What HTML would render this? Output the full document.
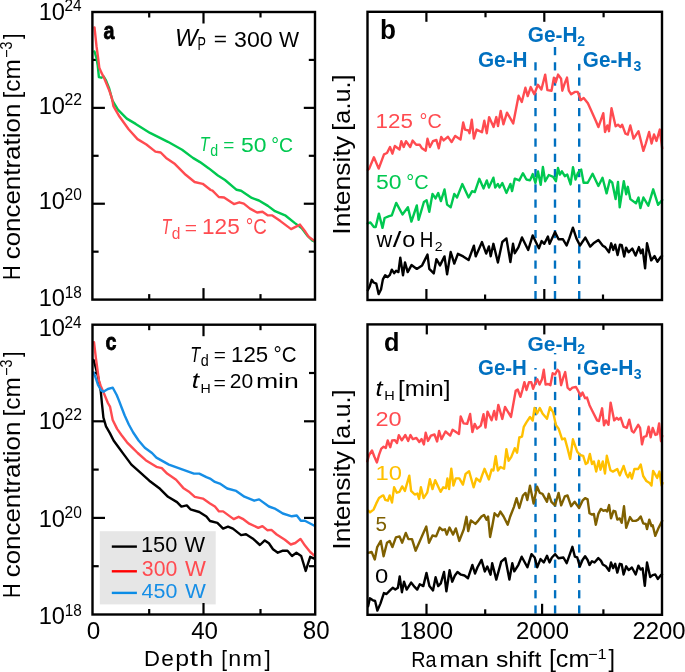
<!DOCTYPE html><html><head><meta charset="utf-8"><style>html,body{margin:0;padding:0;background:#fff;overflow:hidden}svg{display:block;will-change:transform}</style></head><body>
<svg width="685" height="672" viewBox="0 0 685 672" font-family='"Liberation Sans", sans-serif'>
<rect width="685" height="672" fill="#fff"/>
<line x1="92.40" y1="59.93" x2="98.60" y2="59.93" stroke="#000" stroke-width="2.2"/>
<line x1="315.00" y1="59.93" x2="308.80" y2="59.93" stroke="#000" stroke-width="2.2"/>
<line x1="92.40" y1="107.87" x2="104.90" y2="107.87" stroke="#000" stroke-width="2.2"/>
<line x1="315.00" y1="107.87" x2="303.80" y2="107.87" stroke="#000" stroke-width="2.2"/>
<line x1="92.40" y1="155.80" x2="98.60" y2="155.80" stroke="#000" stroke-width="2.2"/>
<line x1="315.00" y1="155.80" x2="308.80" y2="155.80" stroke="#000" stroke-width="2.2"/>
<line x1="92.40" y1="203.73" x2="104.90" y2="203.73" stroke="#000" stroke-width="2.2"/>
<line x1="315.00" y1="203.73" x2="303.80" y2="203.73" stroke="#000" stroke-width="2.2"/>
<line x1="92.40" y1="251.67" x2="98.60" y2="251.67" stroke="#000" stroke-width="2.2"/>
<line x1="315.00" y1="251.67" x2="308.80" y2="251.67" stroke="#000" stroke-width="2.2"/>
<line x1="149.20" y1="299.60" x2="149.20" y2="294.10" stroke="#000" stroke-width="2.2"/>
<line x1="149.20" y1="12.00" x2="149.20" y2="17.50" stroke="#000" stroke-width="2.2"/>
<line x1="203.50" y1="299.60" x2="203.50" y2="288.10" stroke="#000" stroke-width="2.2"/>
<line x1="203.50" y1="12.00" x2="203.50" y2="23.50" stroke="#000" stroke-width="2.2"/>
<line x1="260.50" y1="299.60" x2="260.50" y2="294.10" stroke="#000" stroke-width="2.2"/>
<line x1="260.50" y1="12.00" x2="260.50" y2="17.50" stroke="#000" stroke-width="2.2"/>
<polyline points="94.5,51.5 96.5,58.1 97.7,65.2 98.9,77.1 101.3,77.7 103.7,76.5 106.1,80.7 109.0,87.9 112.5,100.7 117.9,109.6 126.8,118.6 135.7,123.9 150.0,132.9 160.0,137.9 167.9,141.8 182.1,149.8 192.9,157.9 200.0,162.1 208.9,168.4 217.9,175.5 225.0,180.0 236.6,189.8 241.1,190.7 251.8,197.9 258.9,200.5 267.9,205.9 275.0,211.2 285.7,215.7 294.6,222.9 301.8,228.2 307.1,235.4 312.5,240.7 314.3,241.5" fill="none" stroke="#00C850" stroke-width="2.4" stroke-linejoin="round" stroke-linecap="round"/>
<polyline points="94.5,27.4 96.5,46.2 98.3,59.3 99.3,67.6 101.3,72.4 103.7,77.1 106.7,84.3 109.6,91.4 112.0,98.6 113.4,106.1 119.6,116.8 128.6,129.3 137.5,139.1 146.4,144.5 155.4,151.6 160.7,152.5 166.1,157.9 175.0,164.1 185.7,174.8 194.6,182.0 202.7,183.8 210.7,190.0 212.5,190.7 218.8,197.0 224.1,197.5 233.9,204.1 239.3,202.3 243.8,203.6 250.0,208.6 257.1,212.5 262.5,211.8 267.9,215.4 272.3,215.4 280.4,221.1 291.1,229.1 300.0,224.6 305.4,231.8 308.9,237.1 314.3,240.7" fill="none" stroke="#FF4B50" stroke-width="2.4" stroke-linejoin="round" stroke-linecap="round"/>
<rect x="92.4" y="12.0" width="222.60" height="287.60" fill="none" stroke="#000" stroke-width="2.4"/>
<rect x="99.8" y="531.2" width="115.9" height="73.2" fill="#E6E6E6"/>
<line x1="92.50" y1="373.00" x2="98.70" y2="373.00" stroke="#000" stroke-width="2.2"/>
<line x1="315.20" y1="373.00" x2="309.00" y2="373.00" stroke="#000" stroke-width="2.2"/>
<line x1="92.50" y1="421.30" x2="105.00" y2="421.30" stroke="#000" stroke-width="2.2"/>
<line x1="315.20" y1="421.30" x2="304.00" y2="421.30" stroke="#000" stroke-width="2.2"/>
<line x1="92.50" y1="469.60" x2="98.70" y2="469.60" stroke="#000" stroke-width="2.2"/>
<line x1="315.20" y1="469.60" x2="309.00" y2="469.60" stroke="#000" stroke-width="2.2"/>
<line x1="92.50" y1="517.90" x2="105.00" y2="517.90" stroke="#000" stroke-width="2.2"/>
<line x1="315.20" y1="517.90" x2="304.00" y2="517.90" stroke="#000" stroke-width="2.2"/>
<line x1="92.50" y1="566.20" x2="98.70" y2="566.20" stroke="#000" stroke-width="2.2"/>
<line x1="315.20" y1="566.20" x2="309.00" y2="566.20" stroke="#000" stroke-width="2.2"/>
<line x1="149.20" y1="614.50" x2="149.20" y2="609.00" stroke="#000" stroke-width="2.2"/>
<line x1="149.20" y1="324.70" x2="149.20" y2="330.20" stroke="#000" stroke-width="2.2"/>
<line x1="203.50" y1="614.50" x2="203.50" y2="603.00" stroke="#000" stroke-width="2.2"/>
<line x1="203.50" y1="324.70" x2="203.50" y2="336.20" stroke="#000" stroke-width="2.2"/>
<line x1="260.50" y1="614.50" x2="260.50" y2="609.00" stroke="#000" stroke-width="2.2"/>
<line x1="260.50" y1="324.70" x2="260.50" y2="330.20" stroke="#000" stroke-width="2.2"/>
<polyline points="93.6,360.0 94.9,364.5 98.0,376.4 100.7,390.7 102.1,405.0 103.4,417.5 106.0,426.4 110.0,433.4 113.6,440.5 118.9,447.7 123.4,453.9 131.4,464.6 140.4,472.7 149.3,480.7 160.0,488.8 168.0,496.8 177.0,502.1 181.4,506.6 186.8,505.4 190.4,509.3 199.3,512.0 206.4,516.4 210.0,521.0 217.4,522.8 223.1,528.6 228.0,526.6 232.9,528.6 241.1,535.1 246.0,534.3 252.6,538.4 259.9,545.0 264.8,540.4 268.9,543.3 273.0,549.3 277.8,552.7 282.3,550.8 287.5,550.8 292.0,556.0 296.4,552.7 301.2,556.0 305.7,570.9 310.2,556.8 314.3,558.6" fill="none" stroke="#000" stroke-width="2.4" stroke-linejoin="round" stroke-linecap="round"/>
<polyline points="94.0,342.1 95.8,357.3 97.6,370.7 98.9,380.5 100.7,385.9 103.4,392.1 107.9,403.0 110.0,406.6 112.7,420.0 117.1,428.9 121.6,435.2 127.0,442.3 132.3,447.7 137.7,453.0 145.7,460.2 156.4,466.8 161.8,468.2 167.1,473.6 176.1,479.8 183.2,487.9 188.6,491.4 194.8,496.8 202.9,498.6 210.0,503.5 214.9,506.5 219.0,511.4 223.1,511.4 233.7,519.1 238.6,516.8 242.7,518.8 249.3,523.7 258.3,527.8 262.4,526.1 267.3,530.2 271.4,529.9 276.7,534.5 284.9,539.7 290.8,544.5 295.3,543.0 300.5,538.9 305.0,545.6 310.2,552.0 314.3,555.7" fill="none" stroke="#FF4B50" stroke-width="2.4" stroke-linejoin="round" stroke-linecap="round"/>
<polyline points="93.6,372.5 95.4,377.0 98.0,385.0 101.2,390.4 103.4,391.7 107.9,389.0 112.8,387.7 116.7,395.0 118.9,400.4 121.6,407.5 124.7,415.5 128.8,424.5 133.2,432.5 138.6,440.5 144.8,447.7 152.0,453.0 156.4,457.6 168.9,464.6 181.4,469.1 193.9,473.6 199.3,473.6 206.4,477.1 210.0,478.6 214.9,481.9 219.8,483.6 227.2,488.5 236.2,490.9 244.4,496.7 254.2,500.7 259.1,499.4 268.9,506.5 275.5,508.9 282.8,513.5 291.8,516.3 296.8,515.5 300.8,520.7 304.9,520.7 313.5,525.3 314.3,525.7" fill="none" stroke="#168EE6" stroke-width="2.4" stroke-linejoin="round" stroke-linecap="round"/>
<rect x="92.5" y="324.7" width="222.70" height="289.80" fill="none" stroke="#000" stroke-width="2.4"/>
<line x1="535.50" y1="62.25" x2="535.50" y2="70.45" stroke="#0070C0" stroke-width="2.4"/>
<line x1="535.50" y1="77.50" x2="535.50" y2="85.70" stroke="#0070C0" stroke-width="2.4"/>
<line x1="535.50" y1="92.75" x2="535.50" y2="100.95" stroke="#0070C0" stroke-width="2.4"/>
<line x1="535.50" y1="108.00" x2="535.50" y2="116.20" stroke="#0070C0" stroke-width="2.4"/>
<line x1="535.50" y1="123.25" x2="535.50" y2="131.45" stroke="#0070C0" stroke-width="2.4"/>
<line x1="535.50" y1="138.50" x2="535.50" y2="146.70" stroke="#0070C0" stroke-width="2.4"/>
<line x1="535.50" y1="153.75" x2="535.50" y2="161.95" stroke="#0070C0" stroke-width="2.4"/>
<line x1="535.50" y1="169.00" x2="535.50" y2="177.20" stroke="#0070C0" stroke-width="2.4"/>
<line x1="535.50" y1="184.25" x2="535.50" y2="192.45" stroke="#0070C0" stroke-width="2.4"/>
<line x1="535.50" y1="199.50" x2="535.50" y2="207.70" stroke="#0070C0" stroke-width="2.4"/>
<line x1="535.50" y1="214.75" x2="535.50" y2="222.95" stroke="#0070C0" stroke-width="2.4"/>
<line x1="535.50" y1="230.00" x2="535.50" y2="238.20" stroke="#0070C0" stroke-width="2.4"/>
<line x1="535.50" y1="245.25" x2="535.50" y2="253.45" stroke="#0070C0" stroke-width="2.4"/>
<line x1="535.50" y1="260.50" x2="535.50" y2="268.70" stroke="#0070C0" stroke-width="2.4"/>
<line x1="535.50" y1="275.75" x2="535.50" y2="283.95" stroke="#0070C0" stroke-width="2.4"/>
<line x1="535.50" y1="291.00" x2="535.50" y2="299.20" stroke="#0070C0" stroke-width="2.4"/>
<line x1="555.00" y1="47.00" x2="555.00" y2="55.20" stroke="#0070C0" stroke-width="2.4"/>
<line x1="555.00" y1="62.25" x2="555.00" y2="70.45" stroke="#0070C0" stroke-width="2.4"/>
<line x1="555.00" y1="77.50" x2="555.00" y2="85.70" stroke="#0070C0" stroke-width="2.4"/>
<line x1="555.00" y1="92.75" x2="555.00" y2="100.95" stroke="#0070C0" stroke-width="2.4"/>
<line x1="555.00" y1="108.00" x2="555.00" y2="116.20" stroke="#0070C0" stroke-width="2.4"/>
<line x1="555.00" y1="123.25" x2="555.00" y2="131.45" stroke="#0070C0" stroke-width="2.4"/>
<line x1="555.00" y1="138.50" x2="555.00" y2="146.70" stroke="#0070C0" stroke-width="2.4"/>
<line x1="555.00" y1="153.75" x2="555.00" y2="161.95" stroke="#0070C0" stroke-width="2.4"/>
<line x1="555.00" y1="169.00" x2="555.00" y2="177.20" stroke="#0070C0" stroke-width="2.4"/>
<line x1="555.00" y1="184.25" x2="555.00" y2="192.45" stroke="#0070C0" stroke-width="2.4"/>
<line x1="555.00" y1="199.50" x2="555.00" y2="207.70" stroke="#0070C0" stroke-width="2.4"/>
<line x1="555.00" y1="214.75" x2="555.00" y2="222.95" stroke="#0070C0" stroke-width="2.4"/>
<line x1="555.00" y1="230.00" x2="555.00" y2="238.20" stroke="#0070C0" stroke-width="2.4"/>
<line x1="555.00" y1="245.25" x2="555.00" y2="253.45" stroke="#0070C0" stroke-width="2.4"/>
<line x1="555.00" y1="260.50" x2="555.00" y2="268.70" stroke="#0070C0" stroke-width="2.4"/>
<line x1="555.00" y1="275.75" x2="555.00" y2="283.95" stroke="#0070C0" stroke-width="2.4"/>
<line x1="555.00" y1="291.00" x2="555.00" y2="299.20" stroke="#0070C0" stroke-width="2.4"/>
<line x1="579.20" y1="63.90" x2="579.20" y2="70.45" stroke="#0070C0" stroke-width="2.4"/>
<line x1="579.20" y1="77.50" x2="579.20" y2="85.70" stroke="#0070C0" stroke-width="2.4"/>
<line x1="579.20" y1="92.75" x2="579.20" y2="100.95" stroke="#0070C0" stroke-width="2.4"/>
<line x1="579.20" y1="108.00" x2="579.20" y2="116.20" stroke="#0070C0" stroke-width="2.4"/>
<line x1="579.20" y1="123.25" x2="579.20" y2="131.45" stroke="#0070C0" stroke-width="2.4"/>
<line x1="579.20" y1="138.50" x2="579.20" y2="146.70" stroke="#0070C0" stroke-width="2.4"/>
<line x1="579.20" y1="153.75" x2="579.20" y2="161.95" stroke="#0070C0" stroke-width="2.4"/>
<line x1="579.20" y1="169.00" x2="579.20" y2="177.20" stroke="#0070C0" stroke-width="2.4"/>
<line x1="579.20" y1="184.25" x2="579.20" y2="192.45" stroke="#0070C0" stroke-width="2.4"/>
<line x1="579.20" y1="199.50" x2="579.20" y2="207.70" stroke="#0070C0" stroke-width="2.4"/>
<line x1="579.20" y1="214.75" x2="579.20" y2="222.95" stroke="#0070C0" stroke-width="2.4"/>
<line x1="579.20" y1="230.00" x2="579.20" y2="238.20" stroke="#0070C0" stroke-width="2.4"/>
<line x1="579.20" y1="245.25" x2="579.20" y2="253.45" stroke="#0070C0" stroke-width="2.4"/>
<line x1="579.20" y1="260.50" x2="579.20" y2="268.70" stroke="#0070C0" stroke-width="2.4"/>
<line x1="579.20" y1="275.75" x2="579.20" y2="283.95" stroke="#0070C0" stroke-width="2.4"/>
<line x1="579.20" y1="291.00" x2="579.20" y2="299.20" stroke="#0070C0" stroke-width="2.4"/>
<polyline points="367.8,170.0 369.2,168.6 373.9,157.3 378.7,168.6 384.0,154.3 387.0,153.0 390.0,147.0 392.4,153.7 394.8,146.0 399.5,149.5 401.3,141.2 403.7,147.0 406.0,141.2 410.2,147.0 412.6,140.6 416.2,144.8 419.8,144.8 422.0,148.3 425.7,150.7 427.5,138.8 429.9,147.0 432.9,141.2 436.4,140.0 438.8,148.3 441.2,137.0 443.6,140.4 448.0,136.8 451.6,142.1 455.2,135.9 460.5,139.5 463.2,122.5 465.0,129.6 468.6,130.5 469.5,133.2 471.8,119.8 473.9,138.6 476.6,129.6 482.0,132.3 484.3,120.7 486.8,133.2 489.1,117.1 493.6,127.0 496.3,117.1 498.0,126.0 500.7,110.9 503.4,124.3 507.0,112.7 513.2,123.4 518.6,95.7 521.8,102.0 525.4,87.7 527.7,96.1 530.7,87.1 534.3,94.3 537.9,84.8 541.4,89.5 545.2,74.6 547.4,90.1 551.5,90.7 553.9,77.6 555.7,82.4 558.1,74.6 561.1,78.8 562.3,90.7 564.6,83.6 567.0,77.6 568.8,90.7 571.2,94.3 574.8,91.9 577.7,91.9 580.7,100.2 583.7,97.9 587.9,103.2 591.4,111.0 596.2,121.7 598.4,127.1 603.3,113.2 605.0,132.0 607.4,125.5 609.0,131.2 611.5,108.3 615.6,126.3 618.0,124.7 620.5,127.1 622.1,124.7 625.4,133.7 627.8,134.5 630.3,125.5 633.6,138.6 638.5,131.2 643.4,150.9 645.8,143.5 649.1,132.0 651.6,143.5 654.0,134.5 656.5,141.0 659.8,129.6 662.2,148.4" fill="none" stroke="#FF4B50" stroke-width="2.4" stroke-linejoin="round" stroke-linecap="round"/>
<polyline points="367.7,223.4 370.4,222.5 373.9,227.0 375.7,227.0 378.9,213.6 382.5,227.9 384.6,218.0 389.1,216.2 391.8,215.4 396.2,202.9 402.5,214.5 407.9,207.3 411.4,221.6 416.8,205.5 418.6,219.8 423.9,202.0 426.6,200.2 429.3,211.8 432.5,193.9 435.5,198.4 438.2,193.0 440.9,201.1 444.5,189.5 447.1,204.6 450.7,207.3 454.3,193.9 457.0,197.5 462.3,184.1 468.6,197.5 472.1,191.2 474.8,192.1 479.3,178.8 483.6,188.4 486.8,180.4 488.9,187.5 493.4,177.7 495.2,187.5 497.9,183.9 499.6,187.5 502.3,183.0 506.4,192.9 510.4,183.9 512.1,191.1 514.8,178.6 519.3,180.4 522.9,173.2 526.4,179.5 530.0,180.4 532.7,174.1 535.4,183.0 538.0,171.4 540.7,184.8 542.9,167.0 545.2,181.2 548.8,175.0 553.2,176.8 555.9,181.2 558.0,168.0 559.9,174.6 561.9,171.3 564.8,176.2 567.3,174.6 570.6,184.4 573.0,167.2 575.5,179.5 577.9,172.9 581.2,169.6 583.6,182.7 587.7,182.7 592.6,173.7 598.4,186.0 602.5,177.8 606.6,193.4 609.8,180.3 612.3,182.7 615.6,199.1 618.0,181.9 619.7,207.3 623.8,181.1 626.2,194.2 627.8,186.8 630.3,199.1 636.0,203.2 638.5,197.5 640.4,208.1 643.4,197.5 648.3,205.7 653.2,189.3 658.1,204.8 662.2,199.9" fill="none" stroke="#00C850" stroke-width="2.4" stroke-linejoin="round" stroke-linecap="round"/>
<polyline points="367.8,290.2 369.7,286.4 371.7,279.8 373.6,282.5 376.3,283.7 378.6,294.1 381.0,289.5 382.9,279.4 385.2,275.2 387.5,277.1 389.9,274.8 391.8,269.7 394.1,273.2 396.1,270.7 398.4,272.1 400.3,257.7 403.0,275.2 405.0,262.4 407.7,272.1 411.5,265.1 416.8,268.9 422.1,265.4 427.5,254.6 429.3,268.9 433.8,273.4 436.4,259.1 440.0,265.4 444.5,256.4 447.1,274.3 450.7,252.0 454.3,263.6 457.9,253.8 463.2,256.4 468.6,260.0 473.9,245.7 475.7,256.4 482.0,242.1 486.2,253.6 488.9,246.4 490.7,256.2 493.4,243.8 497.9,262.5 502.3,242.0 506.4,238.4 510.4,262.1 513.0,243.8 514.8,253.2 518.4,247.3 522.0,237.5 528.2,250.0 532.7,235.4 538.9,248.2 541.6,241.1 544.3,243.8 547.9,236.6 549.6,243.8 555.0,232.1 558.6,239.3 563.0,239.3 566.6,245.5 569.3,238.4 572.9,227.7 576.4,238.4 580.0,245.5 585.3,237.6 590.2,246.6 593.5,243.3 598.4,240.0 602.8,245.7 605.2,247.1 609.0,252.3 611.2,243.3 613.3,249.9 615.2,244.7 617.6,255.1 619.9,244.7 621.8,245.2 624.2,256.6 626.1,247.6 628.5,252.3 632.3,248.5 635.6,255.6 638.9,247.1 640.8,253.2 642.7,249.4 645.1,268.4 647.0,243.3 651.2,260.4 654.6,256.1 657.4,261.8 660.7,257.0 662.0,256.0" fill="none" stroke="#000" stroke-width="2.4" stroke-linejoin="round" stroke-linecap="round"/>
<line x1="426.40" y1="11.80" x2="426.40" y2="21.80" stroke="#000" stroke-width="2.2"/>
<line x1="485.50" y1="11.80" x2="485.50" y2="17.30" stroke="#000" stroke-width="2.2"/>
<line x1="544.30" y1="11.80" x2="544.30" y2="21.80" stroke="#000" stroke-width="2.2"/>
<line x1="603.60" y1="11.80" x2="603.60" y2="17.30" stroke="#000" stroke-width="2.2"/>
<line x1="426.40" y1="300.00" x2="426.40" y2="289.00" stroke="#000" stroke-width="2.2"/>
<line x1="485.10" y1="300.00" x2="485.10" y2="294.50" stroke="#000" stroke-width="2.2"/>
<line x1="544.30" y1="300.00" x2="544.30" y2="289.00" stroke="#000" stroke-width="2.2"/>
<line x1="603.00" y1="300.00" x2="603.00" y2="294.50" stroke="#000" stroke-width="2.2"/>
<rect x="367.5" y="11.8" width="294.50" height="288.20" fill="none" stroke="#000" stroke-width="2.4"/>
<line x1="535.50" y1="368.00" x2="535.50" y2="369.60" stroke="#0070C0" stroke-width="2.4"/>
<line x1="535.50" y1="376.65" x2="535.50" y2="384.85" stroke="#0070C0" stroke-width="2.4"/>
<line x1="535.50" y1="391.90" x2="535.50" y2="400.10" stroke="#0070C0" stroke-width="2.4"/>
<line x1="535.50" y1="407.15" x2="535.50" y2="415.35" stroke="#0070C0" stroke-width="2.4"/>
<line x1="535.50" y1="422.40" x2="535.50" y2="430.60" stroke="#0070C0" stroke-width="2.4"/>
<line x1="535.50" y1="437.65" x2="535.50" y2="445.85" stroke="#0070C0" stroke-width="2.4"/>
<line x1="535.50" y1="452.90" x2="535.50" y2="461.10" stroke="#0070C0" stroke-width="2.4"/>
<line x1="535.50" y1="468.15" x2="535.50" y2="476.35" stroke="#0070C0" stroke-width="2.4"/>
<line x1="535.50" y1="483.40" x2="535.50" y2="491.60" stroke="#0070C0" stroke-width="2.4"/>
<line x1="535.50" y1="498.65" x2="535.50" y2="506.85" stroke="#0070C0" stroke-width="2.4"/>
<line x1="535.50" y1="513.90" x2="535.50" y2="522.10" stroke="#0070C0" stroke-width="2.4"/>
<line x1="535.50" y1="529.15" x2="535.50" y2="537.35" stroke="#0070C0" stroke-width="2.4"/>
<line x1="535.50" y1="544.40" x2="535.50" y2="552.60" stroke="#0070C0" stroke-width="2.4"/>
<line x1="535.50" y1="559.65" x2="535.50" y2="567.85" stroke="#0070C0" stroke-width="2.4"/>
<line x1="535.50" y1="574.90" x2="535.50" y2="583.10" stroke="#0070C0" stroke-width="2.4"/>
<line x1="535.50" y1="590.15" x2="535.50" y2="598.35" stroke="#0070C0" stroke-width="2.4"/>
<line x1="535.50" y1="605.40" x2="535.50" y2="613.60" stroke="#0070C0" stroke-width="2.4"/>
<line x1="555.10" y1="353.00" x2="555.10" y2="354.35" stroke="#0070C0" stroke-width="2.4"/>
<line x1="555.10" y1="361.40" x2="555.10" y2="369.60" stroke="#0070C0" stroke-width="2.4"/>
<line x1="555.10" y1="376.65" x2="555.10" y2="384.85" stroke="#0070C0" stroke-width="2.4"/>
<line x1="555.10" y1="391.90" x2="555.10" y2="400.10" stroke="#0070C0" stroke-width="2.4"/>
<line x1="555.10" y1="407.15" x2="555.10" y2="415.35" stroke="#0070C0" stroke-width="2.4"/>
<line x1="555.10" y1="422.40" x2="555.10" y2="430.60" stroke="#0070C0" stroke-width="2.4"/>
<line x1="555.10" y1="437.65" x2="555.10" y2="445.85" stroke="#0070C0" stroke-width="2.4"/>
<line x1="555.10" y1="452.90" x2="555.10" y2="461.10" stroke="#0070C0" stroke-width="2.4"/>
<line x1="555.10" y1="468.15" x2="555.10" y2="476.35" stroke="#0070C0" stroke-width="2.4"/>
<line x1="555.10" y1="483.40" x2="555.10" y2="491.60" stroke="#0070C0" stroke-width="2.4"/>
<line x1="555.10" y1="498.65" x2="555.10" y2="506.85" stroke="#0070C0" stroke-width="2.4"/>
<line x1="555.10" y1="513.90" x2="555.10" y2="522.10" stroke="#0070C0" stroke-width="2.4"/>
<line x1="555.10" y1="529.15" x2="555.10" y2="537.35" stroke="#0070C0" stroke-width="2.4"/>
<line x1="555.10" y1="544.40" x2="555.10" y2="552.60" stroke="#0070C0" stroke-width="2.4"/>
<line x1="555.10" y1="559.65" x2="555.10" y2="567.85" stroke="#0070C0" stroke-width="2.4"/>
<line x1="555.10" y1="574.90" x2="555.10" y2="583.10" stroke="#0070C0" stroke-width="2.4"/>
<line x1="555.10" y1="590.15" x2="555.10" y2="598.35" stroke="#0070C0" stroke-width="2.4"/>
<line x1="555.10" y1="605.40" x2="555.10" y2="613.60" stroke="#0070C0" stroke-width="2.4"/>
<line x1="579.20" y1="363.80" x2="579.20" y2="369.60" stroke="#0070C0" stroke-width="2.4"/>
<line x1="579.20" y1="376.65" x2="579.20" y2="384.85" stroke="#0070C0" stroke-width="2.4"/>
<line x1="579.20" y1="391.90" x2="579.20" y2="400.10" stroke="#0070C0" stroke-width="2.4"/>
<line x1="579.20" y1="407.15" x2="579.20" y2="415.35" stroke="#0070C0" stroke-width="2.4"/>
<line x1="579.20" y1="422.40" x2="579.20" y2="430.60" stroke="#0070C0" stroke-width="2.4"/>
<line x1="579.20" y1="437.65" x2="579.20" y2="445.85" stroke="#0070C0" stroke-width="2.4"/>
<line x1="579.20" y1="452.90" x2="579.20" y2="461.10" stroke="#0070C0" stroke-width="2.4"/>
<line x1="579.20" y1="468.15" x2="579.20" y2="476.35" stroke="#0070C0" stroke-width="2.4"/>
<line x1="579.20" y1="483.40" x2="579.20" y2="491.60" stroke="#0070C0" stroke-width="2.4"/>
<line x1="579.20" y1="498.65" x2="579.20" y2="506.85" stroke="#0070C0" stroke-width="2.4"/>
<line x1="579.20" y1="513.90" x2="579.20" y2="522.10" stroke="#0070C0" stroke-width="2.4"/>
<line x1="579.20" y1="529.15" x2="579.20" y2="537.35" stroke="#0070C0" stroke-width="2.4"/>
<line x1="579.20" y1="544.40" x2="579.20" y2="552.60" stroke="#0070C0" stroke-width="2.4"/>
<line x1="579.20" y1="559.65" x2="579.20" y2="567.85" stroke="#0070C0" stroke-width="2.4"/>
<line x1="579.20" y1="574.90" x2="579.20" y2="583.10" stroke="#0070C0" stroke-width="2.4"/>
<line x1="579.20" y1="590.15" x2="579.20" y2="598.35" stroke="#0070C0" stroke-width="2.4"/>
<line x1="579.20" y1="605.40" x2="579.20" y2="613.60" stroke="#0070C0" stroke-width="2.4"/>
<polyline points="367.2,461.3 369.1,455.0 372.0,450.5 374.3,456.5 376.9,462.4 379.1,454.6 381.3,448.6 383.6,446.8 385.8,447.9 387.7,440.5 390.3,447.2 392.1,440.5 394.7,440.1 397.0,443.1 398.8,435.2 401.8,440.3 405.3,435.0 408.2,440.9 410.5,435.0 412.8,439.1 416.4,438.0 419.3,442.0 421.6,439.1 423.9,444.4 425.7,432.7 428.0,440.9 430.9,435.6 434.5,434.5 437.1,441.5 439.1,431.0 441.5,439.1 445.5,431.5 450.2,435.6 452.6,429.8 459.0,433.9 460.7,416.4 463.6,423.4 467.2,423.9 470.1,414.0 472.4,432.1 474.7,423.9 477.1,428.6 480.8,425.6 483.5,414.2 485.5,427.6 487.5,411.6 491.6,420.3 494.2,410.9 496.2,419.6 498.3,404.9 502.3,418.9 505.0,406.9 511.0,416.9 515.7,390.8 517.7,389.5 520.4,396.8 522.4,390.0 524.4,382.1 526.5,390.0 528.9,382.3 531.3,382.3 533.1,388.8 534.9,384.0 537.3,379.3 539.6,384.6 542.0,379.3 543.8,369.8 545.6,384.6 548.0,384.0 550.4,385.2 552.7,373.3 555.1,374.5 557.5,369.8 559.3,372.1 561.1,385.2 563.5,376.9 565.2,372.1 567.6,387.6 570.0,390.0 572.4,387.6 576.0,387.0 578.3,391.2 580.7,396.0 582.5,392.5 585.1,398.2 587.0,397.6 589.5,405.2 592.6,411.5 597.1,420.4 599.0,421.0 602.1,408.3 604.0,425.4 605.9,420.4 608.5,424.8 610.6,402.6 614.2,420.4 616.7,417.8 618.6,419.7 620.7,417.8 623.6,426.7 626.8,427.9 629.3,419.7 631.9,431.1 633.8,432.4 638.2,424.8 640.1,427.9 642.0,444.4 643.9,436.8 646.4,436.2 648.6,426.7 650.6,437.4 652.7,427.9 655.3,434.9 657.2,434.3 659.1,423.5 661.0,441.2 662.2,436.0" fill="none" stroke="#FF4B50" stroke-width="2.4" stroke-linejoin="round" stroke-linecap="round"/>
<polyline points="368.2,510.5 370.0,512.3 373.6,509.6 376.3,503.4 379.0,498.0 381.6,496.2 383.4,495.4 385.2,499.8 387.9,500.7 389.7,495.4 392.0,502.5 394.1,487.3 396.8,492.7 399.5,491.8 402.2,486.4 404.9,490.9 409.3,475.7 411.1,490.9 414.7,494.5 417.4,493.6 419.1,498.9 420.9,487.3 423.6,498.0 427.2,492.7 429.9,479.3 432.5,489.1 435.2,480.2 440.6,491.8 443.2,487.3 445.9,488.2 447.4,478.4 449.1,489.1 451.3,468.6 453.4,485.5 455.8,478.4 459.3,478.4 462.9,484.6 465.6,473.9 469.1,471.2 473.6,487.3 476.3,478.4 480.0,481.5 482.0,475.7 484.5,468.8 488.9,479.5 491.6,469.6 493.4,470.5 495.7,456.2 497.9,470.5 500.5,467.0 504.1,468.8 506.4,449.1 508.6,460.7 511.2,457.1 514.8,448.2 517.1,452.7 519.3,437.5 522.0,436.6 523.8,426.8 526.4,422.3 530.0,417.0 532.7,420.5 534.5,408.0 537.1,413.4 539.8,408.0 542.5,413.4 547.0,418.8 550.0,407.1 553.2,412.5 555.9,425.0 558.6,428.6 562.1,439.3 564.8,438.4 567.5,448.2 570.2,458.9 572.9,439.3 577.3,451.8 580.0,455.0 583.2,455.8 585.7,464.0 587.6,462.7 589.9,453.9 592.0,464.0 593.9,461.4 596.2,471.6 598.7,460.8 600.5,469.7 602.8,461.4 605.0,473.5 606.8,455.8 610.4,470.3 612.9,471.6 617.3,469.0 619.8,475.4 623.6,465.9 626.2,474.1 628.1,477.3 630.0,472.8 631.9,478.5 634.4,469.0 638.2,469.0 640.7,464.6 643.2,476.0 646.4,481.0 649.6,483.0 651.5,485.5 653.1,470.9 657.2,477.9 659.4,471.6 661.6,485.5 662.5,483.0" fill="none" stroke="#FFC000" stroke-width="2.4" stroke-linejoin="round" stroke-linecap="round"/>
<polyline points="368.1,552.8 371.6,551.9 374.8,559.5 377.2,547.1 380.8,540.9 383.6,556.2 387.0,542.7 389.7,540.9 392.4,547.1 395.9,537.3 399.5,536.4 402.2,542.7 405.8,532.9 408.4,539.1 412.0,539.1 415.6,550.7 419.1,542.7 422.7,534.6 426.3,526.6 429.0,542.7 432.5,535.5 436.1,536.4 439.7,527.5 442.4,530.2 445.0,529.3 446.8,534.6 449.5,527.5 453.1,534.6 455.8,528.4 459.3,540.9 463.8,529.3 466.5,516.8 468.2,531.1 470.9,520.4 475.4,523.9 478.3,520.6 481.5,516.5 484.0,514.9 486.5,519.8 488.1,516.5 490.1,537.0 492.2,526.4 494.6,513.3 497.9,516.5 500.4,511.6 503.6,516.5 507.7,524.7 510.2,516.5 513.9,507.1 516.6,498.2 519.3,508.0 522.9,495.5 525.5,492.9 527.3,500.0 530.0,485.7 533.6,503.6 537.1,486.6 539.8,492.9 542.5,493.8 547.0,501.8 548.8,493.8 551.4,501.8 555.0,505.4 558.6,492.9 561.2,505.4 564.8,496.4 567.5,495.5 571.1,506.2 574.6,501.8 579.1,508.0 582.5,500.7 585.1,498.1 587.6,499.4 589.5,513.3 592.0,514.6 593.9,513.9 595.8,524.7 598.3,513.9 600.9,508.9 603.4,510.8 605.3,510.1 607.2,511.4 609.1,505.1 611.0,518.4 613.5,510.8 615.4,511.4 617.3,519.6 619.8,518.4 621.7,522.8 624.0,506.3 626.2,527.8 630.0,517.1 632.5,520.9 635.7,520.9 638.2,519.6 640.7,516.5 643.2,523.4 645.8,524.0 647.0,529.1 649.3,519.6 651.5,526.0 652.7,525.2 655.3,535.9 658.4,528.3 662.2,520.8" fill="none" stroke="#7F6000" stroke-width="2.4" stroke-linejoin="round" stroke-linecap="round"/>
<polyline points="368.1,606.2 369.9,598.3 372.5,600.1 375.1,601.0 377.4,610.6 380.4,603.6 383.9,593.1 386.5,594.0 390.0,590.4 392.7,587.8 395.3,589.6 397.9,587.8 399.7,576.4 401.9,592.2 404.0,581.7 406.7,589.6 411.1,582.6 414.6,586.9 417.2,589.6 419.8,584.3 423.3,586.1 426.5,572.9 429.4,586.1 433.0,590.4 435.6,577.3 438.2,586.1 440.8,583.4 444.0,572.0 446.4,591.3 449.6,570.3 452.2,581.7 454.9,575.5 457.5,572.0 461.0,574.7 464.5,575.5 468.0,578.2 472.4,565.0 475.0,573.5 477.5,567.3 481.5,559.9 484.8,571.4 487.3,566.5 490.6,574.7 492.2,563.2 496.3,579.6 501.2,561.6 505.3,558.3 509.4,579.6 512.3,563.2 514.3,571.4 518.4,564.8 521.7,556.7 527.4,567.3 531.5,554.2 534.7,557.5 537.2,567.3 540.5,559.1 543.8,562.4 547.0,555.8 549.5,562.4 551.9,557.5 555.2,554.2 558.5,558.3 563.4,557.5 566.7,563.2 572.4,546.8 574.9,556.7 577.3,557.5 579.8,566.5 582.5,560.0 585.1,556.2 587.6,560.0 589.5,565.0 592.0,561.2 594.5,562.5 598.3,558.1 600.9,560.6 602.8,564.4 605.9,566.3 609.1,570.7 611.0,562.5 613.1,568.2 615.2,563.8 617.3,572.6 619.8,563.8 621.7,564.4 623.6,574.5 626.2,566.3 628.7,570.1 631.9,567.5 635.7,574.5 638.4,565.7 640.5,569.4 642.6,568.2 644.8,585.9 647.0,562.5 650.2,577.0 652.7,575.1 655.3,574.5 657.8,578.9 661.0,575.1 662.0,574.5" fill="none" stroke="#000" stroke-width="2.4" stroke-linejoin="round" stroke-linecap="round"/>
<line x1="426.80" y1="324.40" x2="426.80" y2="334.40" stroke="#000" stroke-width="2.2"/>
<line x1="485.50" y1="324.40" x2="485.50" y2="329.90" stroke="#000" stroke-width="2.2"/>
<line x1="544.30" y1="324.40" x2="544.30" y2="334.40" stroke="#000" stroke-width="2.2"/>
<line x1="603.40" y1="324.40" x2="603.40" y2="329.90" stroke="#000" stroke-width="2.2"/>
<line x1="426.50" y1="614.80" x2="426.50" y2="603.80" stroke="#000" stroke-width="2.2"/>
<line x1="485.20" y1="614.80" x2="485.20" y2="609.30" stroke="#000" stroke-width="2.2"/>
<line x1="542.10" y1="614.80" x2="542.10" y2="603.80" stroke="#000" stroke-width="2.2"/>
<line x1="603.40" y1="614.80" x2="603.40" y2="609.30" stroke="#000" stroke-width="2.2"/>
<rect x="367.5" y="324.4" width="294.50" height="290.40" fill="none" stroke="#000" stroke-width="2.4"/>
<text transform="translate(38.63,19.90) scale(0.9823,1)" font-size="24.09" fill="#000">10</text>
<text transform="translate(38.63,113.90) scale(0.9823,1)" font-size="24.09" fill="#000">10</text>
<text transform="translate(38.63,208.50) scale(0.9823,1)" font-size="24.09" fill="#000">10</text>
<text transform="translate(38.63,306.30) scale(0.9823,1)" font-size="24.09" fill="#000">10</text>
<text transform="translate(38.63,336.10) scale(0.9823,1)" font-size="24.09" fill="#000">10</text>
<text transform="translate(38.63,428.90) scale(0.9823,1)" font-size="24.09" fill="#000">10</text>
<text transform="translate(38.63,527.00) scale(0.9823,1)" font-size="24.09" fill="#000">10</text>
<text transform="translate(38.63,624.20) scale(0.9823,1)" font-size="24.09" fill="#000">10</text>
<text transform="translate(64.53,11.30) scale(0.9590,1)" font-size="16.06" fill="#000">24</text>
<text transform="translate(64.51,105.30) scale(0.9804,1)" font-size="16.06" fill="#000">22</text>
<text transform="translate(64.52,199.90) scale(0.9684,1)" font-size="16.06" fill="#000">20</text>
<text transform="translate(64.85,297.70) scale(0.9538,1)" font-size="16.06" fill="#000">18</text>
<text transform="translate(64.53,327.50) scale(0.9590,1)" font-size="16.06" fill="#000">24</text>
<text transform="translate(64.51,420.30) scale(0.9804,1)" font-size="16.06" fill="#000">22</text>
<text transform="translate(64.52,518.40) scale(0.9684,1)" font-size="16.06" fill="#000">20</text>
<text transform="translate(64.85,615.60) scale(0.9538,1)" font-size="16.06" fill="#000">18</text>
<text transform="translate(103.61,38.60) scale(0.7969,1)" font-size="24.74" font-weight="bold" fill="#000" stroke="#000" stroke-width="0.8">a</text>
<text transform="translate(380.10,38.60) scale(0.9620,1)" font-size="27.17" font-weight="bold" fill="#000">b</text>
<text transform="translate(105.51,350.30) scale(0.8269,1)" font-size="23.81" font-weight="bold" fill="#000" stroke="#000" stroke-width="0.8">c</text>
<text transform="translate(384.09,350.70) scale(0.9571,1)" font-size="26.48" font-weight="bold" fill="#000">d</text>
<text transform="translate(175.10,46.00) scale(0.9804,1)" font-size="24.44" font-style="italic" fill="#000">W</text>
<text transform="translate(197.56,50.40) scale(0.7209,1)" font-size="17.45" fill="#000">P</text>
<text transform="translate(213.87,46.07) scale(1.1610,1)" font-size="19.53" fill="#000">=</text>
<text transform="translate(234.03,46.50) scale(1.0294,1)" font-size="22.51" fill="#000">300</text>
<text transform="translate(278.89,46.50) scale(0.9320,1)" font-size="22.84" fill="#000">W</text>
<text transform="translate(199.67,151.20) scale(0.7626,1)" font-size="20.80" font-style="italic" fill="#00C850">T</text>
<text transform="translate(210.20,156.10) scale(0.8966,1)" font-size="15.86" fill="#00C850">d</text>
<text transform="translate(223.15,151.16) scale(1.0733,1)" font-size="17.67" fill="#00C850">=</text>
<text transform="translate(240.88,151.50) scale(1.0966,1)" font-size="20.93" fill="#00C850">50</text>
<text transform="translate(271.23,151.50) scale(0.9298,1)" font-size="20.93" fill="#00C850">°C</text>
<text transform="translate(161.46,234.40) scale(0.7252,1)" font-size="22.11" font-style="italic" fill="#FF4B50">T</text>
<text transform="translate(171.74,238.80) scale(0.9807,1)" font-size="15.86" fill="#FF4B50">d</text>
<text transform="translate(184.75,233.97) scale(1.1119,1)" font-size="18.91" fill="#FF4B50">=</text>
<text transform="translate(202.00,234.40) scale(1.0375,1)" font-size="21.79" fill="#FF4B50">125</text>
<text transform="translate(245.67,234.40) scale(0.8662,1)" font-size="21.79" fill="#FF4B50">°C</text>
<text transform="translate(190.24,361.90) scale(0.7478,1)" font-size="21.67" font-style="italic" fill="#000">T</text>
<text transform="translate(200.69,366.30) scale(0.9267,1)" font-size="15.59" fill="#000">d</text>
<text transform="translate(213.76,361.26) scale(1.1383,1)" font-size="18.29" fill="#000">=</text>
<text transform="translate(231.03,361.90) scale(1.0433,1)" font-size="21.36" fill="#000">125</text>
<text transform="translate(273.47,361.90) scale(0.9614,1)" font-size="21.36" fill="#000">°C</text>
<text transform="translate(191.72,388.20) scale(1.2056,1)" font-size="21.71" font-style="italic" fill="#000">t</text>
<text transform="translate(200.43,392.60) scale(1.1071,1)" font-size="12.80" fill="#000">H</text>
<text transform="translate(213.54,388.76) scale(1.1608,1)" font-size="18.29" fill="#000">=</text>
<text transform="translate(229.85,388.20) scale(0.9977,1)" font-size="21.08" fill="#000">20</text>
<text transform="translate(255.90,388.20) scale(1.2719,1)" font-size="20.97" fill="#000">min</text>
<line x1="111.80" y1="546.60" x2="136.90" y2="546.60" stroke="#000" stroke-width="2.4"/>
<line x1="111.80" y1="571.30" x2="136.90" y2="571.30" stroke="#FF0000" stroke-width="2.4"/>
<line x1="111.80" y1="592.90" x2="136.90" y2="592.90" stroke="#0A8CE6" stroke-width="2.4"/>
<text transform="translate(140.96,552.20) scale(1.0004,1)" font-size="21.79" fill="#000">150</text>
<text transform="translate(184.49,552.20) scale(1.0067,1)" font-size="21.67" fill="#000">W</text>
<text transform="translate(141.80,575.50) scale(0.9833,1)" font-size="21.65" fill="#FF4B50">300</text>
<text transform="translate(184.89,575.50) scale(1.0284,1)" font-size="21.53" fill="#FF4B50">W</text>
<text transform="translate(141.52,598.30) scale(1.0253,1)" font-size="20.93" fill="#168EE6">450</text>
<text transform="translate(184.89,598.30) scale(1.0644,1)" font-size="20.80" fill="#168EE6">W</text>
<text transform="translate(86.83,638.70) scale(0.9795,1)" font-size="24.80" fill="#000">0</text>
<text transform="translate(191.16,638.80) scale(0.9810,1)" font-size="24.66" fill="#000">40</text>
<text transform="translate(302.78,638.80) scale(0.9652,1)" font-size="24.95" fill="#000">80</text>
<text transform="translate(399.39,638.70) scale(0.9840,1)" font-size="24.52" fill="#000">1800</text>
<text transform="translate(515.91,638.70) scale(0.9744,1)" font-size="24.52" fill="#000">2000</text>
<text transform="translate(632.61,638.70) scale(0.9725,1)" font-size="24.52" fill="#000">2200</text>
<text transform="translate(143.88,666.40) scale(1.0050,1)" font-size="22.00" fill="#000">D</text>
<text transform="translate(161.14,666.40) scale(1.0251,1)" font-size="22.00" fill="#000">e</text>
<text transform="translate(175.18,666.40) scale(1.1313,1)" font-size="22.00" fill="#000">p</text>
<text transform="translate(189.66,666.40) scale(1.3369,1)" font-size="22.00" fill="#000">t</text>
<text transform="translate(199.13,666.40) scale(1.1472,1)" font-size="22.00" fill="#000">h</text>
<text transform="translate(221.29,666.40) scale(0.9436,1)" font-size="22.00" fill="#000">[</text>
<text transform="translate(228.33,666.40) scale(1.0543,1)" font-size="22.00" fill="#000">n</text>
<text transform="translate(242.62,666.40) scale(1.0649,1)" font-size="22.00" fill="#000">m</text>
<text transform="translate(264.53,666.40) scale(1.0227,1)" font-size="22.00" fill="#000">]</text>
<text transform="translate(411.27,667.00) scale(0.8648,1)" font-size="22.84" fill="#000">Ra</text>
<text transform="translate(439.17,667.00) scale(1.1761,1)" font-size="21.77" fill="#000">man</text>
<text transform="translate(495.92,667.00) scale(1.0902,1)" font-size="22.76" fill="#000">shift</text>
<text transform="translate(548.88,667.00) scale(1.0121,1)" font-size="24.83" fill="#000">[cm</text>
<text transform="translate(587.88,659.00) scale(1.1324,1)" font-size="14.40" fill="#000">−1</text>
<text transform="translate(608.42,667.00) scale(0.9465,1)" font-size="24.83" fill="#000">]</text>
<text transform="translate(375.52,127.80) scale(1.0709,1)" font-size="20.93" fill="#FF4B50">125</text>
<text transform="translate(419.61,127.80) scale(0.9438,1)" font-size="20.93" fill="#FF4B50">°C</text>
<text transform="translate(375.88,188.80) scale(1.0966,1)" font-size="20.93" fill="#00C850">50</text>
<text transform="translate(406.30,188.80) scale(0.9531,1)" font-size="20.93" fill="#00C850">°C</text>
<text transform="translate(376.40,247.00) scale(0.9906,1)" font-size="22.00" fill="#000">w</text>
<text transform="translate(392.80,247.00) scale(1.4251,1)" font-size="22.00" fill="#000">/</text>
<text transform="translate(402.30,247.00) scale(1.0678,1)" font-size="22.00" fill="#000">o</text>
<text transform="translate(419.85,247.00) scale(0.8632,1)" font-size="21.82" fill="#000">H</text>
<text transform="translate(434.70,250.70) scale(1.0549,1)" font-size="13.33" fill="#000">2</text>
<text transform="translate(527.77,42.00) scale(0.9828,1)" font-size="21.22" font-weight="bold" fill="#0070C0">Ge-H</text>
<text transform="translate(577.31,45.50) scale(0.9640,1)" font-size="14.48" font-weight="bold" fill="#0070C0">2</text>
<text transform="translate(477.97,67.00) scale(0.9110,1)" font-size="22.80" font-weight="bold" fill="#0070C0">Ge-H</text>
<text transform="translate(582.87,66.60) scale(0.9246,1)" font-size="22.37" font-weight="bold" fill="#0070C0">Ge-H</text>
<text transform="translate(633.48,70.70) scale(0.9172,1)" font-size="15.34" font-weight="bold" fill="#0070C0">3</text>
<text transform="translate(527.56,350.70) scale(0.9937,1)" font-size="21.08" font-weight="bold" fill="#0070C0">Ge-H</text>
<text transform="translate(577.31,354.20) scale(0.9640,1)" font-size="14.48" font-weight="bold" fill="#0070C0">2</text>
<text transform="translate(477.98,375.40) scale(0.9267,1)" font-size="22.08" font-weight="bold" fill="#0070C0">Ge-H</text>
<text transform="translate(583.06,375.40) scale(0.9545,1)" font-size="22.08" font-weight="bold" fill="#0070C0">Ge-H</text>
<text transform="translate(633.68,379.30) scale(0.9172,1)" font-size="15.34" font-weight="bold" fill="#0070C0">3</text>
<text transform="translate(375.46,395.70) scale(1.1796,1)" font-size="21.55" font-style="italic" fill="#000">t</text>
<text transform="translate(384.30,400.00) scale(1.1099,1)" font-size="13.09" fill="#000">H</text>
<text transform="translate(398.04,395.70) scale(1.0590,1)" font-size="22.90" fill="#000">[min]</text>
<text transform="translate(375.42,425.50) scale(1.1537,1)" font-size="20.43" fill="#FF4B50">20</text>
<text transform="translate(375.42,480.20) scale(1.1671,1)" font-size="20.36" fill="#FFC000">10</text>
<text transform="translate(375.47,531.10) scale(0.9919,1)" font-size="20.80" fill="#7F6000">5</text>
<text transform="translate(375.05,582.60) scale(1.1564,1)" font-size="20.65" fill="#000">0</text>
<g transform="translate(20.1,0) rotate(-90)">
<text transform="translate(-280.07,0.00) scale(0.8589,1)" font-size="23.60" fill="#000">H</text>
<text transform="translate(-259.30,0.00) scale(1.0990,1)" font-size="23.60" fill="#000">concentration</text>
<text transform="translate(-98.47,0.00) scale(1.0359,1)" font-size="23.60" fill="#000">[cm</text>
<text transform="translate(-57.71,-8.20) scale(0.9003,1)" font-size="15.80" fill="#000">−3</text>
<text transform="translate(-38.94,0.00) scale(0.8051,1)" font-size="23.60" fill="#000">]</text>
</g>
<g transform="translate(20.1,0) rotate(-90)">
<text transform="translate(-598.07,0.00) scale(0.8589,1)" font-size="23.60" fill="#000">H</text>
<text transform="translate(-577.30,0.00) scale(1.0990,1)" font-size="23.60" fill="#000">concentration</text>
<text transform="translate(-416.47,0.00) scale(1.0359,1)" font-size="23.60" fill="#000">[cm</text>
<text transform="translate(-375.71,-8.20) scale(0.9003,1)" font-size="15.80" fill="#000">−3</text>
<text transform="translate(-356.94,0.00) scale(0.8051,1)" font-size="23.60" fill="#000">]</text>
</g>
<g transform="translate(350.2,0) rotate(-90)">
<text transform="translate(-234.65,0.00) scale(1.1135,1)" font-size="23.80" fill="#000">Intensity</text>
<text transform="translate(-130.74,0.00) scale(1.0646,1)" font-size="23.80" fill="#000">[a.u.]</text>
</g>
<g transform="translate(350.2,0) rotate(-90)">
<text transform="translate(-549.65,0.00) scale(1.1135,1)" font-size="23.80" fill="#000">Intensity</text>
<text transform="translate(-445.74,0.00) scale(1.0646,1)" font-size="23.80" fill="#000">[a.u.]</text>
</g>
</svg></body></html>
